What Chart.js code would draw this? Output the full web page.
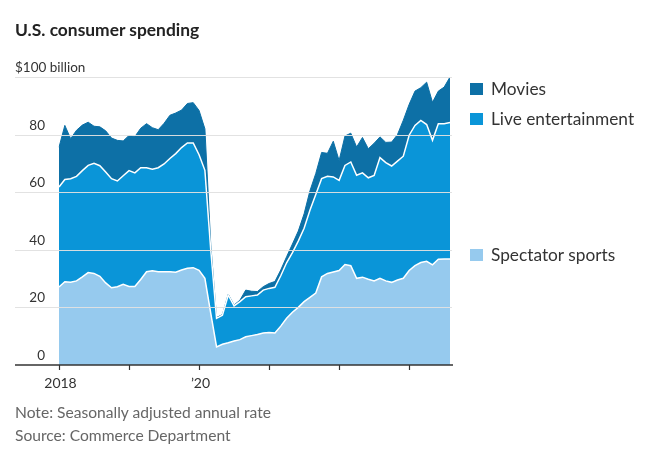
<!DOCTYPE html>
<html>
<head>
<meta charset="utf-8">
<script src="https://cdn.jsdelivr.net/npm/chart.js@4/dist/chart.umd.min.js"></script>
<style>
  html, body { margin: 0; padding: 0; background: #fff; }
  #wrap { position: relative; width: 660px; height: 463px; overflow: hidden; font-family: Lato, "Noto Sans", sans-serif; }
  canvas { position: absolute; left: 0; top: 0; }
  .t { position: absolute; white-space: nowrap; }
  #title { left: 15px; top: 19px; font-size: 17.4px; font-weight: 700; color: #222; }
  .note { left: 15px; font-size: 15.6px; color: #666; }
  .lg { position: absolute; left: 491px; font-size: 17.3px; color: #333; white-space: nowrap; }
  .sw { position: absolute; left: 470px; width: 13px; height: 12px; }
</style>
</head>
<body>
<div id="wrap">
  <canvas id="c" width="660" height="463"></canvas>
  <div id="title" class="t">U.S. consumer spending</div>
  <div class="sw" style="top:83px;background:#0d70a6"></div>
  <div class="lg" style="top:78px">Movies</div>
  <div class="sw" style="top:113px;background:#0a95d8"></div>
  <div class="lg" style="top:108px">Live entertainment</div>
  <div class="sw" style="top:249px;background:#96caee"></div>
  <div class="lg" style="top:244px">Spectator sports</div>
  <div class="t note" style="top:403px">Note: Seasonally adjusted annual rate</div>
  <div class="t note" style="top:426px">Source: Commerce Department</div>
</div>
<script>
// Monthly, Jan 2018 .. Aug 2023 ($ billion, seasonally adjusted annual rate)
const months = [];
for (let y = 2018; y <= 2023; y++) {
  for (let m = 1; m <= 12; m++) {
    if (y === 2023 && m > 8) break;
    months.push(y + '-' + String(m).padStart(2, '0'));
  }
}

const spectatorSports = [
  27.1, 28.9, 28.7, 29.2, 30.6, 32.1, 31.8, 30.8, 28.5, 26.8, 27.2, 28.0,
  27.3, 27.3, 29.7, 32.4, 32.7, 32.4, 32.4, 32.4, 32.2, 33.0, 33.6, 33.8,
  32.9, 30.1, 18.0, 6.3, 7.2, 7.7, 8.3, 8.8, 9.8, 10.2, 10.6, 11.1,
  11.3, 11.1, 13.5, 16.2, 18.3, 20.0, 22.0, 23.5, 25.0, 30.6, 31.8, 32.3,
  32.8, 34.9, 34.5, 30.1, 30.5, 29.8, 29.2, 30.1, 29.2, 28.7, 29.5, 30.1,
  32.8, 34.5, 35.6, 36.0, 34.8, 36.7, 36.8, 36.8
];
const liveEntertainment = [
  34.7, 35.5, 36.0, 36.3, 36.9, 37.2, 38.2, 38.4, 38.5, 37.9, 36.7, 37.7,
  40.2, 39.4, 38.8, 36.1, 35.3, 36.1, 37.4, 39.3, 41.2, 42.5, 43.5, 43.3,
  40.1, 37.5, 22.0, 9.9, 10.1, 16.6, 12.2, 13.2, 13.9, 13.8, 13.7, 14.9,
  15.3, 15.9, 17.5, 19.3, 20.7, 23.0, 25.5, 30.2, 34.2, 34.1, 33.7, 33.0,
  31.3, 34.4, 36.0, 35.8, 36.2, 35.2, 36.6, 41.9, 41.1, 40.4, 41.3, 42.4,
  47.0, 48.7, 49.3, 47.5, 43.2, 47.1, 47.0, 47.4
];
const movies = [
  13.8, 18.8, 13.9, 16.0, 15.8, 15.0, 12.9, 13.5, 14.3, 14.1, 14.1, 12.1,
  12.2, 12.6, 13.7, 15.3, 14.4, 13.2, 14.1, 15.0, 14.1, 13.0, 13.7, 14.0,
  15.4, 14.4, 2.0, 0.3, 0.2, 0.3, 0.3, 0.5, 2.3, 1.6, 1.2, 1.2,
  1.7, 2.0, 2.0, 2.1, 3.0, 3.5, 5.0, 6.8, 7.3, 9.1, 8.0, 12.4,
  6.9, 10.2, 10.0, 9.8, 12.3, 10.1, 11.2, 7.2, 7.0, 8.3, 9.2, 12.5,
  10.7, 11.9, 11.4, 14.7, 13.2, 11.3, 12.7, 15.8
];

const yTicks = [0, 20, 40, 60, 80, 100];
const yTickLabels = ['0', '20', '40', '60', '80', '$100 billion'];
const xTickIndex = [0, 12, 24, 36, 48, 60];
const xTickLabels = ['2018', '', '\u201920', '', '', ''];

const FONT = 'Lato, "Noto Sans", sans-serif';

const overlay = {
  id: 'overlay',
  afterDatasetsDraw(chart) {
    const ctx = chart.ctx;
    const xs = chart.scales.x, ys = chart.scales.y;
    ctx.save();
    // gridlines above the areas
    yTicks.forEach((v, k) => {
      const py = Math.round(ys.getPixelForValue(v)) + 0.5;
      if (v !== 0) {
        ctx.strokeStyle = 'rgba(224,224,224,0.95)';
        ctx.lineWidth = 1;
        ctx.beginPath();
        ctx.moveTo(15, py);
        ctx.lineTo(452, py);
        ctx.stroke();
      }
      ctx.fillStyle = '#333';
      ctx.font = '13.5px ' + FONT;
      ctx.textBaseline = 'bottom';
      if (v === 100) {
        ctx.textAlign = 'left';
        ctx.fillText(yTickLabels[k], 15, py - 3);
      } else {
        ctx.textAlign = 'right';
        ctx.fillText(yTickLabels[k], 45, py - 3);
      }
    });
    // x axis
    const p0 = Math.round(ys.getPixelForValue(0));
    ctx.strokeStyle = '#333';
    ctx.lineWidth = 1.5;
    ctx.beginPath();
    ctx.moveTo(15, p0);
    ctx.lineTo(453, p0);
    ctx.stroke();
    ctx.lineWidth = 1.2;
    xTickIndex.forEach((idx, k) => {
      const px = Math.round(xs.getPixelForValue(idx)) + 0.5;
      ctx.beginPath();
      ctx.moveTo(px, p0);
      ctx.lineTo(px, p0 + 5);
      ctx.stroke();
      if (xTickLabels[k]) {
        ctx.fillStyle = '#333';
        ctx.font = '14px ' + FONT;
        ctx.textAlign = 'center';
        ctx.textBaseline = 'middle';
        ctx.fillText(xTickLabels[k], px + 1, p0 + 18);
      }
    });
    ctx.restore();
  }
};

new Chart(document.getElementById('c'), {
  type: 'line',
  data: {
    labels: months,
    datasets: [
      { label: 'Spectator sports', data: spectatorSports, backgroundColor: '#96caee', borderColor: '#ffffff', borderWidth: 1.5, fill: 'origin', pointRadius: 0, tension: 0 },
      { label: 'Live entertainment', data: liveEntertainment, backgroundColor: '#0a95d8', borderColor: '#ffffff', borderWidth: 1.5, fill: '-1', pointRadius: 0, tension: 0 },
      { label: 'Movies', data: movies, backgroundColor: '#0d70a6', borderColor: '#0d70a6', borderWidth: 1, fill: '-1', pointRadius: 0, tension: 0 }
    ]
  },
  options: {
    responsive: false,
    animation: false,
    events: [],
    layout: { padding: { left: 59, right: 210, top: 77, bottom: 98 } },
    plugins: { legend: { display: false }, tooltip: { enabled: false }, title: { display: false } },
    scales: {
      x: { type: 'category', display: false, offset: false },
      y: { display: false, stacked: true, min: 0, max: 100 }
    }
  },
  plugins: [overlay]
});
</script>
</body>
</html>
